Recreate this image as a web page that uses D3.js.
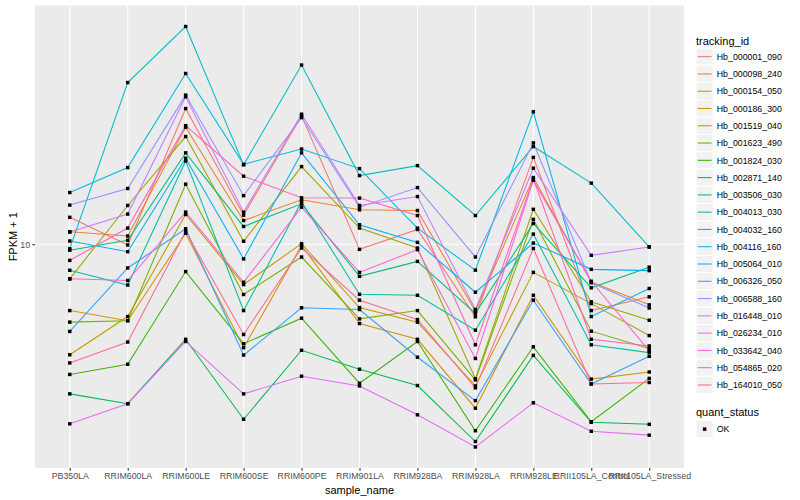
<!DOCTYPE html>
<html>
<head>
<meta charset="utf-8">
<script src="https://cdn.jsdelivr.net/npm/d3@7"></script>
<style>
  body { margin: 0; background: #fff; }
  text { font-family: "Liberation Sans", Arial, Helvetica, sans-serif; }
</style>
</head>
<body>
<svg id="chart" width="800" height="500"></svg>
<script>
// sample names on the x axis
const samples = ["PB350LA", "RRIM600LA", "RRIM600LE", "RRIM600SE", "RRIM600PE", "RRIM901LA",
  "RRIM928BA", "RRIM928LA", "RRIM928LE", "RRII105LA_Control", "RRII105LA_Stressed"];

const trackingIds = ["Hb_000001_090", "Hb_000098_240", "Hb_000154_050", "Hb_000186_300",
  "Hb_001519_040", "Hb_001623_490", "Hb_001824_030", "Hb_002871_140", "Hb_003506_030",
  "Hb_004013_030", "Hb_004032_160", "Hb_004116_160", "Hb_005064_010", "Hb_006326_050",
  "Hb_006588_160", "Hb_016448_010", "Hb_026234_010", "Hb_033642_040", "Hb_054865_020",
  "Hb_164010_050"];

// FPKM + 1 per sample, one array per tracking id
const hb_000001_090 = [12.3, 9.94, 28.4, 12.5, 26.9, 9.61, 11.2, 5.72, 19.5, 6.00, 6.67];
const hb_000098_240 = [11.0, 10.65, 24.6, 12.0, 14.07, 13.03, 12.96, 5.97, 16.7, 7.47, 6.27];
const hb_000154_050 = [6.00, 5.55, 10.88, 4.51, 9.91, 5.43, 4.81, 2.83, 6.75, 3.54, 3.74];
const hb_000186_300 = [4.27, 5.73, 12.57, 7.33, 10.04, 6.14, 5.49, 3.36, 8.05, 6.33, 4.95];
const hb_001519_040 = [7.66, 13.47, 22.9, 10.23, 18.17, 11.32, 9.71, 3.55, 13.08, 6.42, 5.57];
const hb_001623_490 = [5.49, 5.55, 15.87, 6.79, 9.06, 5.63, 6.00, 3.52, 12.11, 5.12, 4.48];
const hb_001824_030 = [3.67, 3.97, 8.10, 4.65, 5.66, 3.43, 4.73, 2.38, 4.54, 2.55, 3.56];
const hb_002871_140 = [3.16, 2.93, 4.81, 2.60, 4.42, 3.82, 3.37, 2.19, 4.25, 2.54, 2.50];
const hb_003506_030 = [9.55, 10.30, 20.2, 11.46, 13.64, 7.81, 8.76, 5.87, 11.73, 7.15, 8.38];
const hb_004013_030 = [8.18, 7.30, 18.98, 6.00, 13.86, 6.80, 6.75, 5.16, 10.81, 4.61, 4.34];
const hb_004032_160 = [9.66, 34.7, 53.4, 18.41, 39.7, 16.96, 18.31, 12.47, 21.2, 16.0, 9.79];
const hb_004116_160 = [14.88, 18.03, 37.2, 18.5, 20.8, 17.89, 11.32, 8.19, 27.7, 5.73, 7.11];
const hb_005064_010 = [10.25, 9.44, 19.38, 8.93, 20.2, 11.61, 10.14, 6.91, 10.09, 8.24, 8.16];
const hb_006326_050 = [5.11, 8.33, 11.26, 4.26, 6.13, 6.05, 4.19, 3.00, 6.50, 3.41, 4.22];
const hb_006588_160 = [13.51, 15.35, 31.5, 14.53, 26.5, 13.30, 15.46, 9.06, 21.8, 7.43, 6.12];
const hb_016448_010 = [10.98, 12.61, 31.1, 12.80, 27.2, 13.47, 14.43, 6.05, 17.95, 9.18, 9.79];
const hb_026234_010 = [2.51, 2.93, 4.73, 3.16, 3.62, 3.36, 2.69, 2.10, 2.95, 2.37, 2.30];
const hb_033642_040 = [7.66, 7.56, 12.80, 7.46, 13.30, 8.05, 9.59, 4.15, 16.34, 7.52, 4.40];
const hb_054865_020 = [8.83, 11.32, 24.9, 16.88, 14.29, 14.26, 12.47, 4.61, 16.53, 4.81, 4.57];
const hb_164010_050 = [4.01, 4.71, 11.03, 4.99, 9.71, 6.50, 5.60, 3.31, 9.68, 3.41, 3.45];

const yTicks = [10];
const quantStatus = ["OK"];

const seriesValues = [hb_000001_090, hb_000098_240, hb_000154_050, hb_000186_300, hb_001519_040,
  hb_001623_490, hb_001824_030, hb_002871_140, hb_003506_030, hb_004013_030, hb_004032_160,
  hb_004116_160, hb_005064_010, hb_006326_050, hb_006588_160, hb_016448_010, hb_026234_010,
  hb_033642_040, hb_054865_020, hb_164010_050];

// polar LUV -> hex, same as R's hcl()
function hcl2hex(h, c, l) {
  const WX = 95.047, WY = 100.0, WZ = 108.883;
  const hr = h * Math.PI / 180;
  const U = c * Math.cos(hr), V = c * Math.sin(hr);
  const Y = WY * (l > 7.999592 ? Math.pow((l + 16) / 116, 3) : l / 903.3);
  const t = WX + 15 * WY + 3 * WZ;
  const un = 4 * WX / t, vn = 9 * WY / t;
  const Q = U / (13 * l) + un, R = V / (13 * l) + vn;
  const X = 9 * Y * Q / (4 * R);
  const Z = -X / 3 - 5 * Y + 3 * Y / R;
  const g = u => (u > 0.00304 ? 1.055 * Math.pow(u, 1 / 2.4) - 0.055 : 12.92 * u);
  const cl = u => Math.max(0, Math.min(1, u));
  const r = cl(g((3.240479 * X - 1.537150 * Y - 0.498535 * Z) / WY));
  const gg = cl(g((-0.969256 * X + 1.875992 * Y + 0.041556 * Z) / WY));
  const b = cl(g((0.055648 * X - 0.204043 * Y + 1.057311 * Z) / WY));
  return d3.rgb(r * 255, gg * 255, b * 255).formatHex();
}

const color = d3.scaleOrdinal()
  .domain(trackingIds)
  .range(trackingIds.map((d, i) => hcl2hex(15 + 360 / trackingIds.length * i, 100, 65)));

const panel = {left: 35, right: 684, top: 5.5, bottom: 468};

const svg = d3.select("#chart");

const x = d3.scalePoint()
  .domain(samples)
  .range([panel.left, panel.right])
  .padding(0.6);

// log scale, 5% expansion like ggplot
const all = seriesValues.flat();
const lo = Math.log10(d3.min(all)), hi = Math.log10(d3.max(all));
const pad = (hi - lo) * 0.05;
const y = d3.scaleLog()
  .domain([Math.pow(10, lo - pad), Math.pow(10, hi + pad)])
  .range([panel.bottom, panel.top]);

svg.append("rect")
  .attr("x", panel.left).attr("y", panel.top)
  .attr("width", panel.right - panel.left).attr("height", panel.bottom - panel.top)
  .attr("fill", "#EBEBEB");

// grid
svg.append("g").selectAll("line").data(yTicks).enter().append("line")
  .attr("x1", panel.left).attr("x2", panel.right)
  .attr("y1", d => y(d)).attr("y2", d => y(d))
  .attr("stroke", "#fff").attr("stroke-width", 1.07);
svg.append("g").selectAll("line").data(samples).enter().append("line")
  .attr("x1", d => x(d)).attr("x2", d => x(d))
  .attr("y1", panel.top).attr("y2", panel.bottom)
  .attr("stroke", "#fff").attr("stroke-width", 1.07);

// axes
const xAxis = svg.append("g")
  .attr("transform", "translate(0," + panel.bottom + ")")
  .call(d3.axisBottom(x).tickSize(2.75).tickPadding(2.2).tickSizeOuter(0));
const yAxis = svg.append("g")
  .attr("transform", "translate(" + panel.left + ",0)")
  .call(d3.axisLeft(y).tickValues(yTicks).tickFormat(d3.format("d")).tickSize(2.75).tickPadding(2.2).tickSizeOuter(0));
[xAxis, yAxis].forEach(a => {
  a.select(".domain").remove();
  a.selectAll(".tick line").attr("stroke", "#333333").attr("stroke-width", 1.07);
  a.selectAll(".tick text").attr("fill", "#4D4D4D").style("font-size", "8.8px")
    .style("font-family", "'Liberation Sans', Arial, sans-serif");
});

// lines
const line = d3.line()
  .x((d, i) => x(samples[i]))
  .y(d => y(d));

svg.append("g").selectAll("path")
  .data(seriesValues)
  .enter().append("path")
  .attr("d", line)
  .attr("fill", "none")
  .attr("stroke", (d, i) => color(trackingIds[i]))
  .attr("stroke-width", 1.07);

// points
const ps = 3.45;
svg.append("g").selectAll("g")
  .data(seriesValues)
  .enter().append("g")
  .selectAll("rect")
  .data(d => d)
  .enter().append("rect")
  .attr("x", (d, i) => x(samples[i]) - ps / 2)
  .attr("y", d => y(d) - ps / 2)
  .attr("width", ps).attr("height", ps)
  .attr("fill", "#000");

// axis titles
svg.append("text")
  .attr("x", (panel.left + panel.right) / 2).attr("y", 494)
  .attr("text-anchor", "middle").style("font-size", "11px").attr("fill", "#000")
  .text("sample_name");
svg.append("text")
  .attr("transform", "translate(16.5," + (panel.top + panel.bottom) / 2 + ") rotate(-90)")
  .attr("text-anchor", "middle").style("font-size", "11px").attr("fill", "#000")
  .text("FPKM + 1");

// legend: tracking_id
const lg = svg.append("g");
const keyW = 17.28;
lg.append("text").attr("x", 696).attr("y", 44.5).style("font-size", "11px").text("tracking_id");
const items = lg.selectAll(".item").data(trackingIds).enter().append("g")
  .attr("transform", (d, i) => "translate(696," + (48 + keyW * i) + ")");
items.append("rect").attr("width", keyW).attr("height", keyW)
  .attr("fill", "#F2F2F2").attr("stroke", "#fff").attr("stroke-width", 1);
items.append("line").attr("x1", 1.7).attr("x2", keyW - 1.7)
  .attr("y1", keyW / 2).attr("y2", keyW / 2)
  .attr("stroke", d => color(d)).attr("stroke-width", 1.07);
items.append("text").attr("x", keyW + 3.5).attr("y", keyW / 2 + 3.2)
  .style("font-size", "8.8px").text(d => d);

// legend: quant_status
lg.append("text").attr("x", 696).attr("y", 416).style("font-size", "11px").text("quant_status");
const qs = lg.selectAll(".qs").data(quantStatus).enter().append("g")
  .attr("transform", (d, i) => "translate(696," + (420.5 + keyW * i) + ")");
qs.append("rect").attr("width", keyW).attr("height", keyW)
  .attr("fill", "#F2F2F2").attr("stroke", "#fff").attr("stroke-width", 1);
qs.append("rect").attr("x", keyW / 2 - ps / 2).attr("y", keyW / 2 - ps / 2)
  .attr("width", ps).attr("height", ps).attr("fill", "#000");
qs.append("text").attr("x", keyW + 3.5).attr("y", keyW / 2 + 3.2)
  .style("font-size", "8.8px").text(d => d);
</script>
</body>
</html>
